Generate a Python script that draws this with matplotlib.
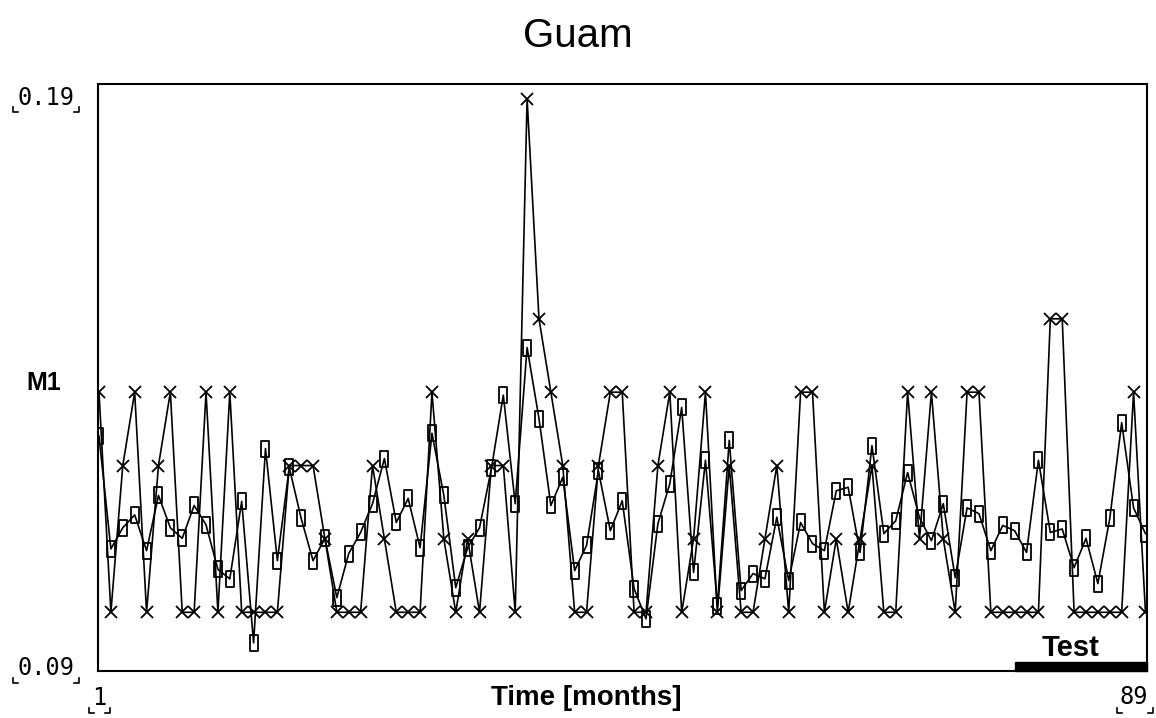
import matplotlib
matplotlib.use("Agg")
import matplotlib.pyplot as plt
from matplotlib.path import Path
from matplotlib.lines import Line2D
from matplotlib.patches import Rectangle
import matplotlib.transforms as mtransforms

# months 1..89
months = list(range(1, 90))

# series drawn with x markers (model output, stepped values)
series_x = [
    0.1375, 0.1, 0.125, 0.1375, 0.1, 0.125, 0.1375, 0.1, 0.1, 0.1375,
    0.1, 0.1375, 0.1, 0.1, 0.1, 0.1, 0.125, 0.125, 0.125, 0.1125,
    0.1, 0.1, 0.1, 0.125, 0.1125, 0.1, 0.1, 0.1, 0.1375, 0.1125,
    0.1, 0.1125, 0.1, 0.125, 0.125, 0.1, 0.1875, 0.15, 0.1375, 0.125,
    0.1, 0.1, 0.125, 0.1375, 0.1375, 0.1, 0.1, 0.125, 0.1375, 0.1,
    0.1125, 0.1375, 0.1, 0.125, 0.1, 0.1, 0.1125, 0.125, 0.1, 0.1375,
    0.1375, 0.1, 0.1125, 0.1, 0.1125, 0.125, 0.1, 0.1, 0.1375, 0.1125,
    0.1375, 0.1125, 0.1, 0.1375, 0.1375, 0.1, 0.1, 0.1, 0.1, 0.1,
    0.15, 0.15, 0.1, 0.1, 0.1, 0.1, 0.1, 0.1375, 0.1,
]

# series drawn with square markers
series_sq = [
    0.130, 0.1108, 0.1144, 0.1166, 0.1105, 0.1199, 0.1144, 0.1126, 0.1182, 0.1149,
    0.1073, 0.1057, 0.1189, 0.0948, 0.1279, 0.1088, 0.1247, 0.1160, 0.1088, 0.1126,
    0.1025, 0.1100, 0.1136, 0.1185, 0.1262, 0.1153, 0.1194, 0.1110, 0.1305, 0.1199,
    0.1042, 0.1110, 0.1144, 0.1245, 0.1370, 0.1185, 0.1451, 0.1330, 0.1182, 0.1230,
    0.1071, 0.1114, 0.1241, 0.1139, 0.1190, 0.1040, 0.0989, 0.1151, 0.1219, 0.1349,
    0.1068, 0.1259, 0.1011, 0.1293, 0.1037, 0.1066, 0.1057, 0.1162, 0.1054, 0.1153,
    0.1117, 0.1105, 0.1207, 0.1213, 0.1102, 0.1284, 0.1134, 0.1156, 0.1238, 0.1161,
    0.1122, 0.1185, 0.1059, 0.1178, 0.1168, 0.1105, 0.1148, 0.1139, 0.1102, 0.1259,
    0.1136, 0.1142, 0.1076, 0.1126, 0.1049, 0.1160, 0.1323, 0.1178, 0.1134,
]

y_min, y_max = 0.09, 0.19
test_start = 78

W, H = 1156, 718
fig = plt.figure(figsize=(W / 100, H / 100), dpi=100)


def fx(px):
    return px / W


def fy(py):
    return 1 - py / H


ax = fig.add_axes([fx(98), fy(671), fx(1147) - fx(98), fy(84) - fy(671)])
ax.set_xlim(0.916, 89.13)
ax.set_ylim(y_min, y_max)
ax.set_xticks([])
ax.set_yticks([])
for sp in ax.spines.values():
    sp.set_linewidth(1.5)
    sp.set_color("black")

# tall rectangle marker
rect_marker = Path([(-0.5, -1), (0.5, -1), (0.5, 1), (-0.5, 1), (-0.5, -1)],
                   [Path.MOVETO, Path.LINETO, Path.LINETO, Path.LINETO, Path.CLOSEPOLY])

ax.plot(months, series_x, color="black", lw=1.2, marker="x", ms=8, mew=1.3)
ax.plot(months, series_sq, color="black", lw=1.2, marker=rect_marker, ms=11,
        mfc="none", mec="black", mew=1.3)

# test period bar
trans = mtransforms.blended_transform_factory(ax.transData, ax.transAxes)
ax.add_patch(Rectangle((test_start, 0), 89.13 - test_start, 0.015, transform=trans,
                       color="black", clip_on=False))
ax.text(82.7, 0.039, "Test", transform=trans, ha="center", va="center",
        fontsize=21, fontweight="bold", family="Liberation Sans")

# titles and labels
fig.text(fx(578), fy(36), "Guam", ha="center", va="center", fontsize=29,
         family="Liberation Sans")
fig.text(fx(44), fy(383), "M1", ha="center", va="center", fontsize=18,
         fontweight="bold", family="Liberation Sans")
fig.text(fx(586), fy(698), "Time [months]", ha="center", va="center", fontsize=20,
         fontweight="bold", family="Liberation Sans")

mono = dict(family="DejaVu Sans Mono", fontsize=17, ha="center", va="center")
fig.text(fx(46), fy(98), "0.19", **mono)
fig.text(fx(46), fy(668), "0.09", **mono)
fig.text(fx(99), fy(698), "1", **mono)
fig.text(fx(1134), fy(697), "89", **mono)


def corners(x0, x1, yb):
    # small bracket corners under a scale label
    for xs in ([x0, x0, x0 + 5], [x1, x1, x1 - 5]):
        fig.add_artist(Line2D([fx(v) for v in xs], [fy(yb - 5), fy(yb), fy(yb)],
                              color="black", lw=1.2))


corners(13, 79, 112)
corners(13, 79, 683)
corners(89, 110, 713)
corners(1117, 1153, 713)

plt.savefig("out.png", dpi=100)
